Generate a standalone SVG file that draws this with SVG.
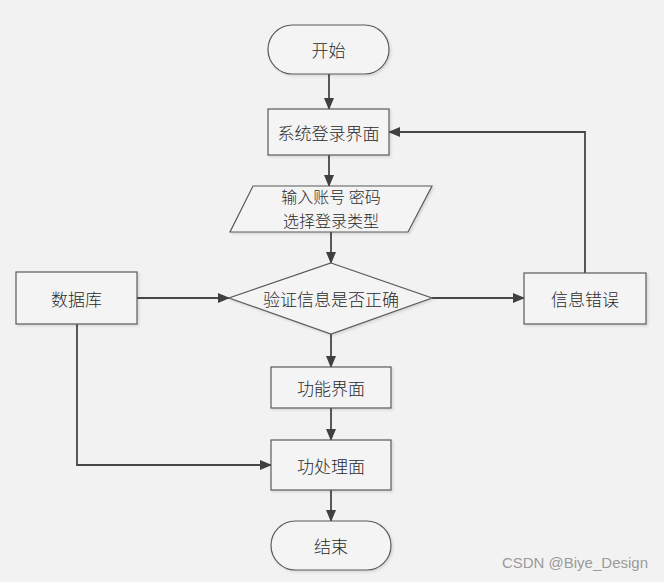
<svg xmlns="http://www.w3.org/2000/svg" width="664" height="582" viewBox="0 0 664 582">
<defs>
<marker id="arr" markerWidth="12" markerHeight="10" refX="11" refY="5" orient="auto" markerUnits="userSpaceOnUse">
<path d="M0,0 L12,5 L0,10 Z" fill="#404040"/>
</marker>
<filter id="sh" x="-10%" y="-10%" width="120%" height="130%">
<feDropShadow dx="1.5" dy="1.5" stdDeviation="1" flood-color="#000" flood-opacity="0.12"/>
</filter>
</defs>
<style>
.n{fill:#f4f4f4;stroke:#5a5a5a;stroke-width:1.2;filter:url(#sh)}
.t{font-family:"Noto Sans CJK SC","Noto Sans CJK JP",sans-serif;font-size:17px;fill:#2a2a2a;text-anchor:middle;dominant-baseline:central;font-weight:300}
.s{font-size:16px}
.c{fill:none;stroke:#474747;stroke-width:1.8}
.w{font-family:"Liberation Sans",Arial,sans-serif;font-size:15px;fill:#9a9a9a;text-anchor:end}
</style>
<rect width="664" height="582" fill="#f2f2f2"/>
<g id="connectors">
<line class="c" x1="329" y1="74" x2="329" y2="109" marker-end="url(#arr)"/>
<line class="c" x1="329" y1="155" x2="329" y2="186" marker-end="url(#arr)"/>
<line class="c" x1="331" y1="232" x2="331" y2="263" marker-end="url(#arr)"/>
<line class="c" x1="137" y1="298" x2="229" y2="298" marker-end="url(#arr)"/>
<line class="c" x1="432" y1="298" x2="524" y2="298" marker-end="url(#arr)"/>
<polyline class="c" points="585,273 585,132 389,132" marker-end="url(#arr)"/>
<line class="c" x1="331" y1="334" x2="331" y2="367" marker-end="url(#arr)"/>
<line class="c" x1="331" y1="408" x2="331" y2="440" marker-end="url(#arr)"/>
<polyline class="c" points="77,324 77,465 271,465" marker-end="url(#arr)"/>
<line class="c" x1="331" y1="490" x2="331" y2="521" marker-end="url(#arr)"/>
</g>
<g id="start">
<rect class="n" x="268" y="25" width="121" height="49" rx="24.5"/>
<text class="t" x="328.5" y="49.5">开始</text>
</g>
<g id="login">
<rect class="n" x="268" y="109" width="121" height="46"/>
<text class="t" x="328.5" y="132">系统登录界面</text>
</g>
<g id="input">
<polygon class="n" points="253,186 432,186 408,232 230,232"/>
<text class="t s" x="331" y="196">输入账号 密码</text>
<text class="t s" x="331" y="220">选择登录类型</text>
</g>
<g id="db">
<rect class="n" x="16" y="272" width="121" height="52"/>
<text class="t" x="76.5" y="298">数据库</text>
</g>
<g id="verify">
<polygon class="n" points="331,263 432,298 331,334 229,298"/>
<text class="t" x="331" y="298">验证信息是否正确</text>
</g>
<g id="error">
<rect class="n" x="524" y="273" width="122" height="51"/>
<text class="t" x="585" y="298.5">信息错误</text>
</g>
<g id="func">
<rect class="n" x="271" y="367" width="120" height="41"/>
<text class="t" x="331" y="387.5">功能界面</text>
</g>
<g id="proc">
<rect class="n" x="271" y="440" width="120" height="50"/>
<text class="t" x="331" y="465">功处理面</text>
</g>
<g id="end">
<rect class="n" x="271" y="521" width="120" height="49" rx="24.5"/>
<text class="t" x="331" y="545.5">结束</text>
</g>
<text class="w" x="648" y="568">CSDN @Biye_Design</text>
</svg>
